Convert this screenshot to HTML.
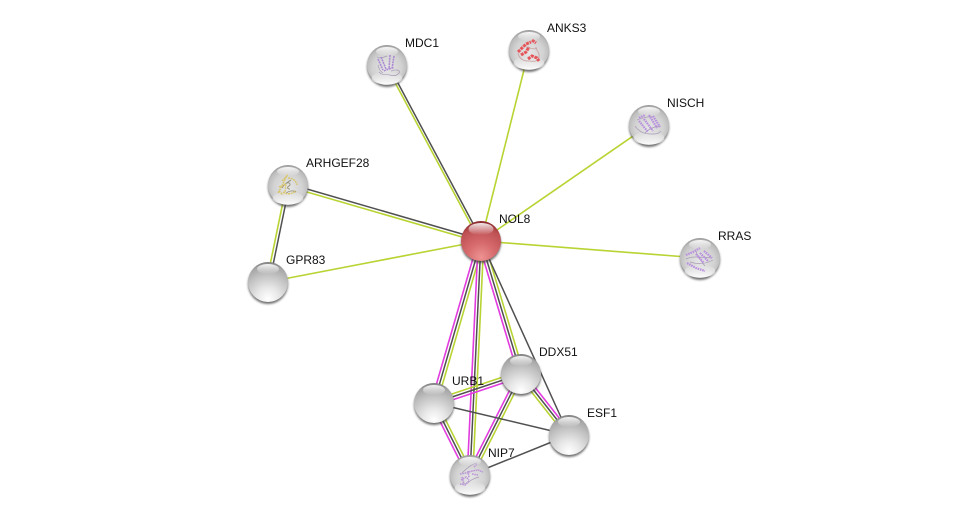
<!DOCTYPE html>
<html>
<head>
<meta charset="utf-8">
<style>
html,body{margin:0;padding:0;background:#fff;width:975px;height:520px;overflow:hidden}
svg{display:block}
text{font-family:"Liberation Sans",Arial,sans-serif;font-size:12px;fill:#111}
.g{stroke:#b8d433;stroke-width:1.6;fill:none}
.k{stroke:#505050;stroke-width:1.5;fill:none}
.p{stroke:#e23be0;stroke-width:1.6;fill:none}
.s{fill:none;stroke:#b98fe0;stroke-width:2.2;stroke-dasharray:1.6 .8}
.t{fill:none;stroke:#a79ab5;stroke-width:.7}
</style>
</head>
<body>
<svg width="975" height="520" viewBox="0 0 975 520" xmlns="http://www.w3.org/2000/svg">
<defs>
<radialGradient id="grey" cx="50%" cy="92%" r="92%">
<stop offset="0" stop-color="#ffffff"/>
<stop offset=".3" stop-color="#e8e8e8"/>
<stop offset=".65" stop-color="#c2c2c2"/>
<stop offset=".9" stop-color="#a4a4a4"/>
<stop offset="1" stop-color="#7a7a7a"/>
</radialGradient>
<radialGradient id="glass" cx="50%" cy="58%" r="60%">
<stop offset="0" stop-color="#e6e6e6"/>
<stop offset=".6" stop-color="#d2d2d2"/>
<stop offset=".85" stop-color="#bcbcbc"/>
<stop offset="1" stop-color="#8a8a8a"/>
</radialGradient>
<radialGradient id="red" cx="50%" cy="90%" r="90%">
<stop offset="0" stop-color="#ee9292"/>
<stop offset=".4" stop-color="#d66a6c"/>
<stop offset=".8" stop-color="#bd5053"/>
<stop offset="1" stop-color="#862528"/>
</radialGradient>
<linearGradient id="hi" x1="0" y1="0" x2="0" y2="1">
<stop offset="0" stop-color="#fff" stop-opacity=".9"/>
<stop offset="1" stop-color="#fff" stop-opacity="0"/>
</linearGradient>
<linearGradient id="lo" x1="0" y1="0" x2="0" y2="1">
<stop offset="0" stop-color="#fff" stop-opacity="0"/>
<stop offset="1" stop-color="#fff" stop-opacity=".95"/>
</linearGradient>
<filter id="blur" x="-30%" y="-30%" width="160%" height="160%"><feGaussianBlur stdDeviation="1"/></filter>
<g id="shadow"><circle cx="0" cy="2" r="20" fill="#3c3c3c" opacity=".75" filter="url(#blur)"/></g>
<g id="ball"><use href="#shadow"/><circle r="20" fill="url(#grey)"/><ellipse cx="0" cy="-13" rx="11" ry="5" fill="url(#hi)"/></g>
<g id="gball"><use href="#shadow"/><circle r="20" fill="url(#glass)"/><ellipse cx="0" cy="13" rx="15.5" ry="6.5" fill="url(#lo)"/></g>
<g id="hl"><ellipse cx="0" cy="-13.5" rx="11" ry="4.5" fill="url(#hi)"/></g>
</defs>

<!-- single lines -->
<line class="g" x1="481" y1="241" x2="529" y2="50"/>
<line class="g" x1="481" y1="241" x2="649" y2="125"/>
<line class="g" x1="481" y1="241" x2="700" y2="258"/>
<line class="g" x1="481" y1="241" x2="268" y2="282"/>
<!-- MDC1 -->
<line class="g" x1="480" y1="241.6" x2="386" y2="65.6"/>
<line class="k" x1="482" y1="240.4" x2="388" y2="64.4"/>
<!-- ARHGEF28 -->
<line class="g" x1="480.6" y1="242.4" x2="287.6" y2="186.4"/>
<line class="k" x1="481.4" y1="239.6" x2="288.4" y2="183.6"/>
<!-- ARHGEF28-GPR83 -->
<line class="g" x1="286.5" y1="185" x2="266.5" y2="282"/>
<line class="k" x1="289.5" y1="185" x2="269.5" y2="282"/>
<!-- NOL8-URB1 -->
<line class="p" x1="478.2" y1="240.2" x2="431.2" y2="402.2"/>
<line class="k" x1="481" y1="241" x2="434" y2="403"/>
<line class="g" x1="483.8" y1="241.8" x2="436.8" y2="403.8"/>
<!-- NOL8-NIP7 -->
<line class="p" x1="478.2" y1="241" x2="467.2" y2="475"/>
<line class="k" x1="481" y1="241" x2="470" y2="475"/>
<line class="g" x1="483.8" y1="241" x2="472.8" y2="475"/>
<!-- NOL8-DDX51 -->
<line class="p" x1="478.2" y1="241.8" x2="518.2" y2="374.8"/>
<line class="k" x1="481" y1="241" x2="521" y2="374"/>
<line class="g" x1="483.8" y1="240.2" x2="523.8" y2="373.2"/>
<!-- NOL8-ESF1 -->
<line class="k" x1="481" y1="241" x2="569" y2="435"/>
<!-- URB1-DDX51 -->
<line class="g" x1="433.1" y1="400.3" x2="520.1" y2="371.3"/>
<line class="k" x1="434" y1="403" x2="521" y2="374"/>
<line class="p" x1="434.9" y1="405.7" x2="521.9" y2="376.7"/>
<!-- URB1-NIP7 -->
<line class="p" x1="431.5" y1="404.3" x2="467.5" y2="476.3"/>
<line class="k" x1="434" y1="403" x2="470" y2="475"/>
<line class="g" x1="436.5" y1="401.7" x2="472.5" y2="473.7"/>
<!-- DDX51-NIP7 -->
<line class="p" x1="518.5" y1="372.7" x2="467.5" y2="473.7"/>
<line class="k" x1="521" y1="374" x2="470" y2="475"/>
<line class="g" x1="523.5" y1="375.3" x2="472.5" y2="476.3"/>
<!-- DDX51-ESF1 -->
<line class="p" x1="523.2" y1="372.3" x2="571.2" y2="433.3"/>
<line class="k" x1="521" y1="374" x2="569" y2="435"/>
<line class="g" x1="518.8" y1="375.7" x2="566.8" y2="436.7"/>
<!-- URB1-ESF1, NIP7-ESF1 -->
<line class="k" x1="434" y1="403" x2="569" y2="435"/>
<line class="k" x1="470" y1="475" x2="569" y2="435"/>

<!-- plain nodes -->
<use href="#ball" x="268" y="282"/>
<use href="#ball" x="434" y="403"/>
<use href="#ball" x="521" y="374"/>
<use href="#ball" x="569" y="435"/>

<!-- NOL8 -->
<g transform="translate(481,241)">
<use href="#shadow"/>
<circle r="20" fill="url(#red)"/>
<ellipse cx="0" cy="-12" rx="12.5" ry="6" fill="url(#hi)"/>
</g>

<!-- MDC1 -->
<g transform="translate(387,65)">
<use href="#gball"/>
<path class="t" d="M-8 7c3 4 8 2 11 3s7 1 9 -2s-3 -4 -8 -2M-10 -8c3 2 7 0 10 -1M-9 0c1 4 2 6 5 8"/>
<path d="M-9 -6l5 11M-6 -8l5 12M3 -10l-1 14M7 -9l-2 13M-3 6c3 -2 7 -2 10 -4" fill="none" stroke="#ab8bd2" stroke-width="1.6" stroke-dasharray="2 .7"/>
<use href="#hl"/>
</g>
<!-- ANKS3 -->
<g transform="translate(529,50)">
<use href="#gball"/>
<path d="M-11 3c1 6 6 8 10 8s10 2 11 -4s-4 -7 -3 -10M-3 -3c5 1 8 3 11 1" fill="none" stroke="#c9a0a0" stroke-width=".8"/>
<g fill="none" stroke="#e5555a" stroke-width="3" stroke-dasharray="3 .8">
<path d="M-11 2l5 -5l3 -3l5 -2M-8 5l5 -3l3 -5M3 -10l4 3M-1 9l4 -3l5 2l2 3"/>
</g>
<use href="#hl"/>
</g>
<!-- NISCH -->
<g transform="translate(649,125)">
<use href="#gball"/>
<path class="t" d="M-14 1c4 6 10 8 16 8s7 0 10 -3M-12 -5c5 -2 12 -4 17 -3M-4 8c4 -5 10 -6 15 -7"/>
<path class="s" d="M-10 -4l9 11M-5 -6l9 12M0 -10l8 13M4 -9l7 11M-10 -7l6 -3"/>
<use href="#hl"/>
</g>
<!-- RRAS -->
<g transform="translate(700,258)">
<use href="#gball"/>
<path class="t" d="M-14 1c6 -3 14 -2 26 -1M-10 4c6 2 14 3 23 -2M-4 -7c1 5 5 10 9 15"/>
<path class="s" d="M-14 -3l7 -3l7 -4M-13 5l9 5l9 3M-4 -4l8 9M0 -5l8 8M4 -7l8 7"/>
<use href="#hl"/>
</g>
<!-- ARHGEF28 -->
<g transform="translate(288,185)">
<use href="#gball"/>
<path d="M-1 -2c3 -1 4 2 2 3s-2 3 1 3M-6 3c2 -4 6 -6 9 -8M-2 8c3 -2 7 -3 10 -1" fill="none" stroke="#8f8a70" stroke-width=".8"/>
<g fill="none" stroke="#d8c670" stroke-width="1.5" stroke-dasharray="2 .7">
<path d="M-10 8l5 -9l3 -7l2 -3M-6 -4l5 -5M-9 2l7 -3l-1 8M0 -7c4 0 8 2 9 7M-5 7c4 3 9 2 13 -1M-9 6l4 4"/>
</g>
<use href="#hl"/>
</g>
<!-- NIP7 -->
<g transform="translate(470,475)">
<use href="#gball"/>
<path class="t" d="M-8 -2c5 -5 10 -9 15 -10M-8 8c3 2 6 0 8 -2s6 -3 9 -4"/>
<path d="M-10 -1l6 -1l6 -2l6 -1l5 2M-9 5l5 -3l3 3M-10 9l5 1l4 -4M-8 2l2 7M-2 -4l1 7M4 -8l3 -3M2 -1l6 1" fill="none" stroke="#bb95d8" stroke-width="1.5" stroke-dasharray="1.6 .7"/>
<use href="#hl"/>
</g>

<!-- labels -->
<text x="405" y="47">MDC1</text>
<text x="547" y="32">ANKS3</text>
<text x="667" y="107">NISCH</text>
<text x="718" y="240">RRAS</text>
<text x="306" y="167">ARHGEF28</text>
<text x="286" y="264">GPR83</text>
<text x="499" y="223">NOL8</text>
<text x="539" y="356">DDX51</text>
<text x="452" y="385">URB1</text>
<text x="587" y="417">ESF1</text>
<text x="488" y="457">NIP7</text>
</svg>
</body>
</html>
